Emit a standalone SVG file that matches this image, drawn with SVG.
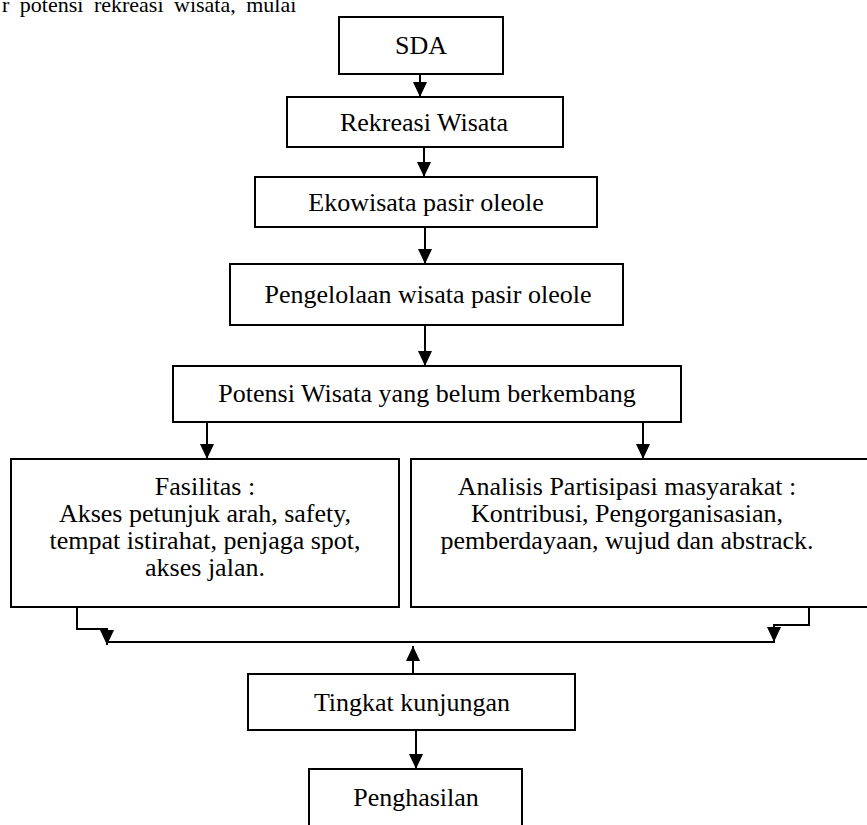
<svg xmlns="http://www.w3.org/2000/svg" width="867" height="825" viewBox="0 0 867 825">
<style>
.box{fill:#fff;stroke:#000;stroke-width:2}
.t{font-family:"Liberation Serif","Times New Roman",serif;font-size:26px;fill:#000;text-anchor:middle}
.c{fill:none;stroke:#000;stroke-width:2}
</style>
<defs>
<marker id="ah" markerUnits="userSpaceOnUse" markerWidth="16" markerHeight="15" refX="15" refY="7" orient="auto">
<path d="M0,0 L15,7 L0,14 z" fill="#000"/>
</marker>
</defs>
<rect width="867" height="825" fill="#fff"/>
<text x="2" y="12" style="font-family:'Liberation Serif','Times New Roman',serif;font-size:22px;word-spacing:5px">r potensi rekreasi wisata, mulai</text>
<g id="n-sda"><rect class="box" x="339" y="17" width="164" height="57"/><text class="t" x="421" y="54">SDA</text></g>
<g id="n-rekreasi"><rect class="box" x="287" y="97" width="276" height="50"/><text class="t" x="424" y="131">Rekreasi Wisata</text></g>
<g id="n-ekowisata"><rect class="box" x="255" y="177" width="342" height="50"/><text class="t" x="426" y="211">Ekowisata pasir oleole</text></g>
<g id="n-pengelolaan"><rect class="box" x="230" y="264" width="393" height="61"/><text class="t" x="428" y="303">Pengelolaan wisata pasir oleole</text></g>
<g id="n-potensi"><rect class="box" x="173" y="366" width="508" height="56"/><text class="t" x="427" y="402">Potensi Wisata yang belum berkembang</text></g>
<g id="n-fasilitas"><rect class="box" x="11" y="459" width="388" height="148"/>
<text class="t" x="205" y="495">Fasilitas :</text>
<text class="t" x="205" y="522">Akses petunjuk arah, safety,</text>
<text class="t" x="205" y="549">tempat istirahat, penjaga spot,</text>
<text class="t" x="205" y="576">akses jalan.</text></g>
<g id="n-analisis"><rect class="box" x="411" y="459" width="460" height="148"/>
<text class="t" x="627" y="495">Analisis Partisipasi masyarakat :</text>
<text class="t" x="627" y="522">Kontribusi, Pengorganisasian,</text>
<text class="t" x="627" y="549">pemberdayaan, wujud dan abstrack.</text></g>
<g id="n-tingkat"><rect class="box" x="248" y="674" width="327" height="56"/><text class="t" x="412" y="711">Tingkat kunjungan</text></g>
<g id="n-penghasilan"><rect class="box" x="309" y="769" width="213" height="70"/><text class="t" x="416" y="806">Penghasilan</text></g>
<g id="connectors">
<path class="c" d="M420 74 V97" marker-end="url(#ah)"/>
<path class="c" d="M424 147 V177" marker-end="url(#ah)"/>
<path class="c" d="M425 227 V264" marker-end="url(#ah)"/>
<path class="c" d="M425 325 V366" marker-end="url(#ah)"/>
<path class="c" d="M207 422 V459" marker-end="url(#ah)"/>
<path class="c" d="M643 422 V459" marker-end="url(#ah)"/>
<path class="c" d="M77 607 V629 H107 V645" marker-end="url(#ah)"/>
<path class="c" d="M809 607 V625 H774 V642" marker-end="url(#ah)"/>
<path class="c" d="M107 642 H775"/>
<path class="c" d="M413 674 V646" marker-end="url(#ah)"/>
<path class="c" d="M416 730 V769" marker-end="url(#ah)"/>
</g>
</svg>
